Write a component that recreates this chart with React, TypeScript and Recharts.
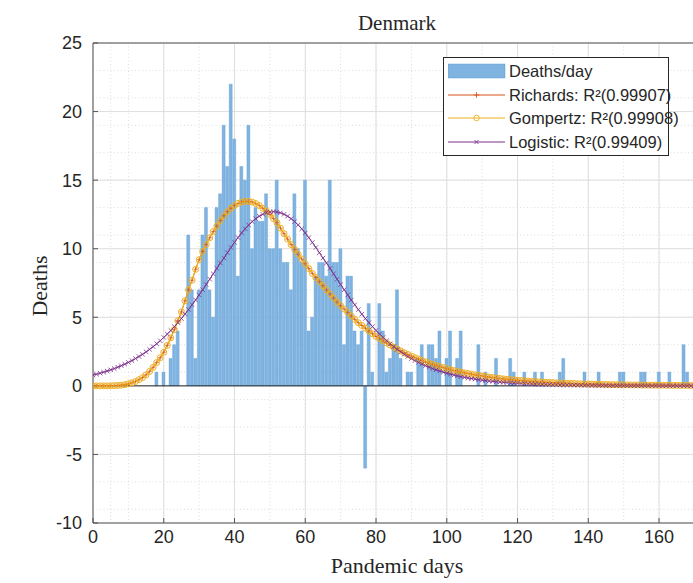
import React from 'react';
import { ComposedChart, Bar, Line, XAxis, YAxis, CartesianGrid, ReferenceLine } from 'recharts';

const days: number[] = Array.from({ length: 171 }, (_, i) => i);

const deaths: number[] = [
  0, 0, 0, 0, 0, 0, 0, 0, 0, 0,
  0, 0, 0, 0, 0, 0, 0, 0, 1, 0,
  1, 0, 2, 3, 4, 0, 0, 11, 7, 2,
  7, 11, 13, 7, 5, 13, 14, 19, 16, 22,
  18, 8, 16, 15, 19, 10, 13, 12, 12, 14,
  10, 10, 15, 10, 9, 9, 7, 14, 10, 9,
  15, 4, 5, 8, 9, 9, 8, 15, 9, 9,
  10, 3, 8, 8, 4, 3, 4, -6, 6, 1,
  0, 6, 4, 1, 2, 3, 7, 2, 0, 1,
  1, 0, 2, 3, 0, 3, 3, 2, 4, 0,
  2, 4, 0, 2, 4, 0, 0, 0, 0, 3,
  0, 1, 0, 0, 2, 0, 0, 0, 2, 1,
  0, 0, 1, 0, 0, 1, 0, 1, 0, 0,
  0, 0, 1, 2, 0, 0, 0, 0, 0, 1,
  0, 0, 0, 1, 0, 0, 0, 0, 0, 1,
  1, 0, 0, 0, 0, 1, 1, 0, 0, 0,
  1, 0, 0, 1, 0, 0, 0, 3, 1, 0,
  0,
];

const gompertz: number[] = [
  0, 0, 0, 0, 0, 0.01, 0.02, 0.03, 0.05, 0.09,
  0.15, 0.22, 0.32, 0.45, 0.6, 0.8, 1.05, 1.35, 1.7, 2.05,
  2.45, 2.95, 3.5, 4.1, 4.75, 5.4, 6.2, 7.0, 7.7, 8.5,
  9.2, 9.8, 10.3, 10.8, 11.25, 11.65, 12.05, 12.4, 12.7, 12.95,
  13.15, 13.3, 13.4, 13.45, 13.45, 13.4, 13.3, 13.15, 12.95, 12.75,
  12.5, 12.2, 11.9, 11.5, 11.1, 10.7, 10.3, 9.95, 9.6, 9.25,
  8.9, 8.55, 8.2, 7.9, 7.6, 7.3, 7.0, 6.7, 6.4, 6.1,
  5.85, 5.6, 5.35, 5.1, 4.85, 4.6, 4.4, 4.2, 4.0, 3.8,
  3.6, 3.45, 3.28, 3.12, 2.97, 2.82, 2.68, 2.54, 2.41, 2.29,
  2.17, 2.06, 1.95, 1.85, 1.75, 1.66, 1.57, 1.49, 1.41, 1.33,
  1.26, 1.18, 1.12, 1.06, 1.0, 0.95, 0.9, 0.85, 0.8, 0.76,
  0.72, 0.68, 0.64, 0.61, 0.57, 0.54, 0.51, 0.48, 0.46, 0.43,
  0.41, 0.39, 0.37, 0.35, 0.33, 0.31, 0.29, 0.28, 0.26, 0.25,
  0.24, 0.22, 0.21, 0.2, 0.19, 0.18, 0.17, 0.16, 0.15, 0.14,
  0.135, 0.13, 0.12, 0.115, 0.11, 0.1, 0.095, 0.09, 0.085, 0.08,
  0.077, 0.073, 0.07, 0.066, 0.063, 0.06, 0.057, 0.054, 0.051, 0.048,
  0.046, 0.044, 0.041, 0.039, 0.037, 0.035, 0.033, 0.032, 0.03, 0.028,
  0.027,
];

const richards: number[] = [
  0, 0, 0, 0, 0, 0.01, 0.02, 0.03, 0.05, 0.09,
  0.15, 0.22, 0.32, 0.45, 0.6, 0.8, 1.05, 1.35, 1.7, 2.05,
  2.45, 2.95, 3.5, 4.1, 4.75, 5.4, 6.2, 7.0, 7.7, 8.5,
  9.2, 9.8, 10.3, 10.8, 11.25, 11.65, 12.05, 12.4, 12.7, 12.95,
  13.15, 13.3, 13.4, 13.45, 13.45, 13.4, 13.3, 13.15, 12.95, 12.75,
  12.5, 12.2, 11.9, 11.5, 11.1, 10.7, 10.3, 9.95, 9.6, 9.25,
  8.9, 8.55, 8.2, 7.9, 7.6, 7.3, 7.0, 6.7, 6.4, 6.1,
  5.85, 5.6, 5.35, 5.1, 4.85, 4.6, 4.4, 4.2, 4.0, 3.8,
  3.6, 3.45, 3.28, 3.12, 2.97, 2.82, 2.68, 2.54, 2.41, 2.29,
  2.17, 2.06, 1.95, 1.85, 1.75, 1.66, 1.57, 1.49, 1.41, 1.33,
  1.26, 1.18, 1.12, 1.06, 1.0, 0.95, 0.9, 0.85, 0.8, 0.76,
  0.72, 0.68, 0.64, 0.61, 0.57, 0.54, 0.51, 0.48, 0.46, 0.43,
  0.41, 0.39, 0.37, 0.35, 0.33, 0.31, 0.29, 0.28, 0.26, 0.25,
  0.24, 0.22, 0.21, 0.2, 0.19, 0.18, 0.17, 0.16, 0.15, 0.14,
  0.135, 0.13, 0.12, 0.115, 0.11, 0.1, 0.095, 0.09, 0.085, 0.08,
  0.077, 0.073, 0.07, 0.066, 0.063, 0.06, 0.057, 0.054, 0.051, 0.048,
  0.046, 0.044, 0.041, 0.039, 0.037, 0.035, 0.033, 0.032, 0.03, 0.028,
  0.027,
];

const logistic: number[] = [
  0.79, 0.85, 0.92, 1.0, 1.08, 1.17, 1.26, 1.36, 1.47, 1.58,
  1.71, 1.84, 1.99, 2.14, 2.3, 2.48, 2.66, 2.86, 3.07, 3.29,
  3.53, 3.78, 4.04, 4.32, 4.61, 4.91, 5.23, 5.56, 5.91, 6.26,
  6.63, 7.01, 7.39, 7.78, 8.17, 8.57, 8.96, 9.32, 9.71, 10.09,
  10.46, 10.81, 11.15, 11.45, 11.73, 11.98, 12.19, 12.37, 12.51, 12.62,
  12.68, 12.7, 12.68, 12.62, 12.51, 12.37, 12.19, 11.98, 11.73, 11.45,
  11.15, 10.81, 10.46, 10.09, 9.71, 9.32, 8.96, 8.57, 8.17, 7.78,
  7.39, 7.01, 6.63, 6.26, 5.91, 5.56, 5.23, 4.91, 4.61, 4.32,
  4.04, 3.78, 3.53, 3.29, 3.07, 2.86, 2.66, 2.48, 2.3, 2.14,
  1.99, 1.84, 1.71, 1.58, 1.47, 1.36, 1.26, 1.17, 1.08, 1.0,
  0.92, 0.85, 0.79, 0.73, 0.67, 0.62, 0.57, 0.53, 0.49, 0.45,
  0.41, 0.38, 0.35, 0.33, 0.3, 0.28, 0.26, 0.24, 0.22, 0.2,
  0.19, 0.17, 0.16, 0.15, 0.135, 0.125, 0.115, 0.106, 0.098, 0.09,
  0.083, 0.077, 0.071, 0.065, 0.06, 0.055, 0.051, 0.047, 0.043, 0.04,
  0.037, 0.034, 0.031, 0.029, 0.027, 0.025, 0.023, 0.021, 0.019, 0.018,
  0.016, 0.015, 0.014, 0.013, 0.012, 0.011, 0.01, 0.009, 0.008, 0.008,
  0.007, 0.006, 0.006, 0.005, 0.005, 0.005, 0.004, 0.004, 0.004, 0.003,
  0.003,
];

const xTicks: number[] = [0, 20, 40, 60, 80, 100, 120, 140, 160];
const yTicks: number[] = [-10, -5, 0, 5, 10, 15, 20, 25];
const xMinor: number[] = [0, 5, 10, 15, 20, 25, 30, 35, 40, 45, 50, 55, 60, 65, 70, 75, 80, 85, 90, 95, 100, 105, 110, 115, 120, 125, 130, 135, 140, 145, 150, 155, 160, 165, 170];
const yMinor: number[] = [-10, -9, -8, -7, -6, -5, -4, -3, -2, -1, 0, 1, 2, 3, 4, 5, 6, 7, 8, 9, 10, 11, 12, 13, 14, 15, 16, 17, 18, 19, 20, 21, 22, 23, 24, 25];

const seriesNames = {
  deaths: 'Deaths/day',
  richards: 'Richards: R²(0.99907)',
  gompertz: 'Gompertz: R²(0.99908)',
  logistic: 'Logistic: R²(0.99409)',
};

const data = days.map((d, i) => ({
  day: d,
  deaths: deaths[i],
  richards: richards[i],
  gompertz: gompertz[i],
  logistic: logistic[i],
}));

const C_BAR = '#80b3e0';
const C_BAR_EDGE = '#5d9fd6';
const C_RICH = '#D95319';
const C_GOMP = '#EDB120';
const C_LOG = '#7E2F8E';
const SANS = '"Liberation Sans", Arial, Helvetica, sans-serif';
const SERIF = '"Liberation Serif", "Times New Roman", serif';

const makeDot = (kind: string, color: string) => (props: any) => {
  const { cx, cy, index } = props;
  if (cx == null || cy == null || isNaN(cy)) return <g key={`d${kind}${index}`} />;
  if (kind === 'o') {
    return <circle key={`d${kind}${index}`} cx={cx} cy={cy} r={3} fill="none" stroke={color} strokeWidth={1} />;
  }
  if (kind === 'x') {
    const s = 2.2;
    return (
      <path key={`d${kind}${index}`} d={`M${cx - s},${cy - s}L${cx + s},${cy + s}M${cx - s},${cy + s}L${cx + s},${cy - s}`} stroke={color} strokeWidth={0.8} fill="none" />
    );
  }
  const s = 2.2;
  return (
    <path key={`d${kind}${index}`} d={`M${cx - s},${cy}L${cx + s},${cy}M${cx},${cy - s}L${cx},${cy + s}`} stroke={color} strokeWidth={0.7} fill="none" />
  );
};

const LegendIcon = ({ kind, color }: { kind: string; color: string }) => (
  <svg width={58} height={16} style={{ display: 'block' }}>
    {kind === 'bar' ? (
      <rect x={0} y={1} width={57} height={14} fill={C_BAR} stroke={C_BAR_EDGE} strokeWidth={0.5} />
    ) : (
      <g>
        <line x1={0} y1={8} x2={57} y2={8} stroke={color} strokeWidth={1} />
        {kind === 'o' && <circle cx={28.5} cy={8} r={2.8} fill="none" stroke={color} strokeWidth={0.9} />}
        {kind === 'x' && <path d="M26.5,6L30.5,10M26.5,10L30.5,6" stroke={color} strokeWidth={0.9} />}
        {kind === '+' && <path d="M25.7,8L31.3,8M28.5,5.2L28.5,10.8" stroke={color} strokeWidth={0.9} />}
      </g>
    )}
  </svg>
);

const legendRows = [
  { key: 'deaths', kind: 'bar', color: C_BAR },
  { key: 'richards', kind: '+', color: C_RICH },
  { key: 'gompertz', kind: 'o', color: C_GOMP },
  { key: 'logistic', kind: 'x', color: C_LOG },
];

export default function App() {
  return (
    <div style={{ position: 'absolute', left: 0, top: 0, width: 693, height: 583, overflow: 'hidden', background: '#fff' }}>
      <ComposedChart width={710} height={583} data={data} margin={{ top: 43, right: 8.5, bottom: 0, left: 0 }}>
        <CartesianGrid verticalValues={xMinor} horizontalValues={yMinor} stroke="#cfcfcf" strokeDasharray="1 2.5" strokeWidth={0.7} />
        <CartesianGrid verticalValues={xTicks} horizontalValues={yTicks} stroke="#dedede" strokeWidth={1} />
        <XAxis
          type="number"
          dataKey="day"
          domain={[0, 172]}
          ticks={xTicks}
          allowDataOverflow
          height={60}
          tickSize={-5}
          tickMargin={12}
          axisLine={{ stroke: '#555', strokeWidth: 1 }}
          tickLine={{ stroke: '#555' }}
          tick={{ fill: '#262626', fontSize: 18, fontFamily: SANS }}
        />
        <YAxis
          type="number"
          domain={[-10, 25]}
          ticks={yTicks}
          allowDataOverflow
          width={93}
          tickSize={-5}
          tickMargin={16}
          axisLine={{ stroke: '#555', strokeWidth: 1 }}
          tickLine={{ stroke: '#555' }}
          tick={{ fill: '#262626', fontSize: 18, fontFamily: SANS }}
        />
        <ReferenceLine y={25} stroke="#555" strokeWidth={1} />
        <Bar dataKey="deaths" fill={C_BAR} stroke={C_BAR_EDGE} strokeWidth={0.4} barSize={3} isAnimationActive={false} />
        <ReferenceLine y={0} stroke="#262626" strokeWidth={1} />
        <Line type="linear" dataKey="richards" stroke={C_RICH} strokeWidth={1} dot={makeDot('+', C_RICH)} activeDot={false} isAnimationActive={false} />
        <Line type="linear" dataKey="gompertz" stroke={C_GOMP} strokeWidth={1.2} dot={makeDot('o', C_GOMP)} activeDot={false} isAnimationActive={false} />
        <Line type="linear" dataKey="logistic" stroke={C_LOG} strokeWidth={1} dot={makeDot('x', C_LOG)} activeDot={false} isAnimationActive={false} />
      </ComposedChart>

      <div style={{ position: 'absolute', left: 0, top: 11, width: 794, textAlign: 'center', fontFamily: SERIF, fontSize: 21, color: '#262626' }}>
        Denmark
      </div>
      <div style={{ position: 'absolute', left: 0, top: 553, width: 794, textAlign: 'center', fontFamily: SERIF, fontSize: 22, color: '#262626' }}>
        Pandemic days
      </div>
      <div style={{ position: 'absolute', left: 40, top: 286, width: 0, height: 0 }}>
        <div style={{ position: 'absolute', left: -60, top: -13, width: 120, textAlign: 'center', transform: 'rotate(-90deg)', fontFamily: SERIF, fontSize: 22, color: '#262626', lineHeight: '26px' }}>
          Deaths
        </div>
      </div>

      <div style={{ position: 'absolute', left: 443, top: 57, width: 226, height: 99, boxSizing: 'border-box', border: '1px solid #262626', background: '#fff' }}>
        {legendRows.map((r, i) => (
          <div key={r.key} style={{ position: 'absolute', left: 4, top: 5 + i * 23.5, height: 16, display: 'flex', alignItems: 'center' }}>
            <LegendIcon kind={r.kind} color={r.color} />
            <span style={{ marginLeft: 3, fontFamily: SANS, fontSize: 16.5, color: '#262626', whiteSpace: 'nowrap', lineHeight: '16px' }}>
              {(seriesNames as any)[r.key]}
            </span>
          </div>
        ))}
      </div>
    </div>
  );
}
